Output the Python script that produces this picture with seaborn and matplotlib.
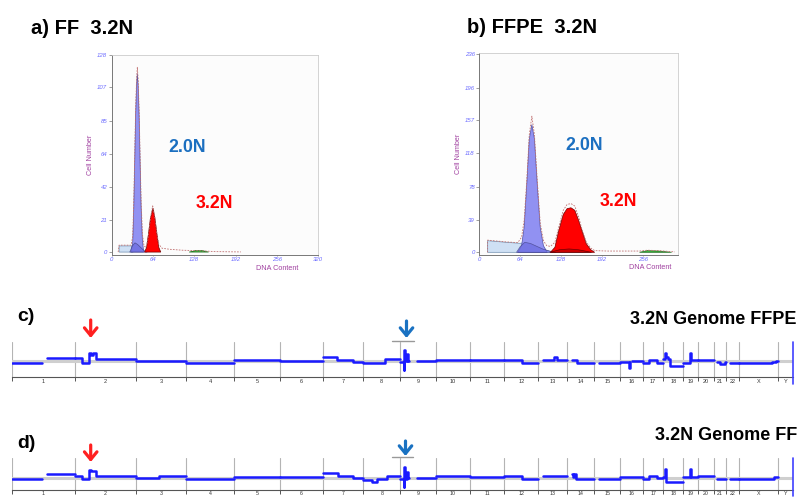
import numpy as np
import pandas as pd
import matplotlib
matplotlib.use("Agg")
import matplotlib.pyplot as plt
from matplotlib.patches import FancyArrowPatch
from matplotlib.lines import Line2D
import seaborn as sns

sns.set_theme(style="white")
plt.rcParams["font.family"] = ["Liberation Sans", "DejaVu Sans"]
plt.rcParams["text.color"] = "black"

# ------------------------------------------------------------------ data
# Panel a (FF) flow histogram components: (DNA content, cell number)
a_debris_x = [11.5, 11.5, 31.0, 33.0]
a_debris_y = [0.0, 4.0, 4.0, 0.0]
a_g1bump_x = [28, 32, 36, 40, 45, 50, 55]
a_g1bump_y = [0, 4, 6, 5, 3, 1, 0]
a_diploid_x = [30, 32.5, 34, 35.5, 37, 38.5, 39.7, 41, 42.5, 44, 45.5, 47.5, 49.5]
a_diploid_y = [0, 6, 25, 55, 88, 108, 116, 108, 88, 58, 30, 8, 0]
a_aneu_x = [51, 54, 57, 60, 64, 67, 70, 73, 76]
a_aneu_y = [0, 3, 12, 22, 28.5, 22, 12, 3, 0]
a_g2_x = [120, 130, 140, 150]
a_g2_y = [0, 1, 1, 0]
a_fit_x = [10, 11.5, 30, 32.5, 34, 35.5, 37, 38.5, 39.7, 41, 42.5, 44, 45.5, 47.5, 50, 53, 56, 60, 63.5, 67, 70, 73, 78, 90, 110, 140, 160, 200]
a_fit_y = [0, 4.5, 4.5, 10, 30, 60, 92, 112, 120, 112, 92, 62, 34, 12, 4, 3, 8, 22, 30, 22, 12, 5, 2.5, 1.8, 1.2, 0.8, 0.3, 0.1]
a_yticks = [0, 21, 42, 64, 85, 107, 128]
a_xticks = [0, 64, 128, 192, 256, 320]

# Panel b (FFPE) flow histogram components
b_debris_x = [13, 13, 40, 63.5, 72, 85, 100, 115]
b_debris_y = [0, 13.8, 12, 10.7, 11.5, 8, 3.5, 0]
b_g1bump_x = [58, 64, 71, 80, 90, 100, 110, 120]
b_g1bump_y = [0, 7, 11.9, 10.5, 7, 3.6, 1.5, 0]
b_diploid_x = [60, 66, 70, 74, 78, 82, 86, 90.5, 95, 100, 106]
b_diploid_y = [0, 8, 30, 80, 135, 152, 135, 80, 30, 8, 0]
b_aneu_x = [111, 118, 124, 131, 137, 143, 149, 155, 160, 167, 174, 180]
b_aneu_y = [0, 6, 26, 45, 52, 53, 50, 38, 26, 10, 3, 0]
b_aneubump_x = [110, 125, 140, 155, 175]
b_aneubump_y = [0, 3, 4, 3, 0]
b_g2_x = [250, 262, 280, 300]
b_g2_y = [0, 2, 1.5, 0]
b_fit_x = [13, 13, 40, 60, 66, 70, 74, 78, 82, 86, 90.5, 95, 100, 105, 111, 118, 124, 131, 137, 143, 149, 155, 160, 167, 174, 180, 200, 250, 262, 280, 305]
b_fit_y = [0, 14.5, 12.5, 11.5, 18, 38, 85, 140, 162, 140, 85, 35, 14, 8, 7, 12, 30, 50, 57, 58, 55, 42, 28, 12, 5, 2, 1.5, 1.5, 2.5, 2, 0.5]
b_yticks = [0, 39, 78, 118, 157, 196, 236]
b_xticks = [0, 64, 128, 192, 256]

# Genome copy-number profiles
chrom_names = [str(i) for i in range(1, 23)] + ["X", "Y"]
chrom_len_mb = [249, 243, 198, 191, 181, 171, 159, 146, 141, 136, 135, 134,
                115, 107, 103, 90, 81, 78, 59, 63, 48, 51, 155, 59]

# (chromosome, start Mb, end Mb, log2 ratio)
ffpe_segments = [
    ("1", 0, 119, -0.08), ("1", 139, 249, 0.17),
    ("2", 0, 30, 0.13), ("2", 30, 58, -0.12), ("2", 58, 66, 0.40), ("2", 66, 72, 0.30),
    ("2", 72, 85, 0.38), ("2", 85, 243, 0.08),
    ("3", 0, 198, -0.02),
    ("4", 0, 191, -0.10),
    ("5", 0, 181, 0.03),
    ("6", 0, 171, -0.02),
    ("7", 0, 53, 0.18), ("7", 53, 119, 0.03), ("7", 119, 159, -0.03),
    ("8", 0, 86, -0.12), ("8", 86, 146, 0.08),
    ("9", 0, 15, -0.05), ("9", 15, 16.5, -0.45), ("9", 16.5, 18, 0.55), ("9", 18, 28, -0.02),
    ("9", 28, 30, 0.35), ("9", 30, 33, 0.0), ("9", 66, 141, 0.02),
    ("10", 0, 136, 0.03),
    ("11", 0, 135, 0.05),
    ("12", 0, 71, 0.05), ("12", 71, 134, -0.12),
    ("13", 19, 63, 0.07), ("13", 63, 76, 0.18), ("13", 76, 115, 0.07),
    ("14", 19, 38, 0.03), ("14", 38, 107, -0.08),
    ("15", 20, 103, -0.09),
    ("16", 0, 36, -0.07), ("16", 36, 37, -0.35), ("16", 37, 39, -0.07), ("16", 46, 90, 0.0),
    ("17", 0, 22, -0.12), ("17", 22, 55, 0.05), ("17", 55, 81, -0.12),
    ("18", 0, 7, 0.10), ("18", 7, 12, 0.42), ("18", 12, 18, 0.20), ("18", 18, 26, 0.12),
    ("18", 26, 78, -0.25),
    ("19", 0, 28, -0.08), ("19", 28, 30, 0.40), ("19", 30, 33, 0.15), ("19", 33, 59, 0.05),
    ("20", 0, 63, 0.05),
    ("21", 13, 25, -0.05), ("21", 25, 42, -0.15), ("21", 42, 48, -0.05),
    ("22", 16, 51, -0.12),
    ("X", 0, 130, -0.12), ("X", 130, 145, -0.05), ("X", 145, 155, 0.0),
]

ff_segments = [
    ("1", 0, 119, -0.05), ("1", 139, 249, 0.17),
    ("2", 0, 30, 0.08), ("2", 30, 58, -0.08), ("2", 58, 64, 0.40), ("2", 64, 85, 0.33),
    ("2", 85, 243, 0.08),
    ("3", 0, 90, -0.03), ("3", 90, 198, 0.08),
    ("4", 0, 191, -0.08),
    ("5", 0, 181, 0.02),
    ("6", 0, 171, 0.05),
    ("7", 0, 60, 0.22), ("7", 60, 119, 0.08), ("7", 119, 159, -0.03),
    ("8", 0, 33, -0.12), ("8", 33, 53, -0.20), ("8", 53, 92, -0.05), ("8", 92, 146, 0.10),
    ("9", 0, 15, -0.08), ("9", 15, 16.5, -0.45), ("9", 16.5, 18, 0.55), ("9", 18, 28, -0.05),
    ("9", 28, 30, 0.30), ("9", 30, 33, -0.03), ("9", 66, 141, 0.0),
    ("10", 0, 136, 0.10),
    ("11", 0, 135, 0.05),
    ("12", 0, 71, 0.08), ("12", 71, 134, -0.07),
    ("13", 19, 115, 0.08),
    ("14", 19, 24, 0.20), ("14", 24, 28, 0.05), ("14", 28, 33, 0.18), ("14", 33, 107, -0.08),
    ("15", 20, 103, -0.07),
    ("16", 0, 90, 0.05),
    ("17", 0, 22, -0.05), ("17", 22, 55, 0.08), ("17", 55, 81, -0.03),
    ("18", 0, 8, 0.05), ("18", 8, 11, 0.42), ("18", 11, 78, -0.20),
    ("19", 0, 28, 0.05), ("19", 28, 30, 0.42), ("19", 30, 59, 0.05),
    ("20", 0, 63, 0.08),
    ("21", 13, 48, -0.07),
    ("22", 16, 51, -0.07),
    ("X", 0, 140, -0.08), ("X", 140, 155, 0.05),
]

# ------------------------------------------------------------------ layout helpers
W, H = 799, 497
fig = plt.figure(figsize=(W / 100, H / 100), dpi=100)


def px_rect(left, top, right, bottom):
    return [left / W, 1 - bottom / H, (right - left) / W, (bottom - top) / H]


def fx(x):
    return x / W


def fy(y):
    return 1 - y / H


BLUE_TXT = "#1b6fc0"
RED = "#ff0000"
TICK_C = "#6b6bff"
LABEL_C = "#a040a0"


def hist_panel(rect, xlim, ylim, xticks, yticks, comps, fit, xlabel_pos):
    ax = fig.add_axes(rect)
    ax.set_facecolor("#fcfcfc")
    ax.set_xlim(*xlim)
    ax.set_ylim(*ylim)
    for (xs, ys, fc, ec, alpha) in comps:
        ax.fill(xs, ys, facecolor=fc, edgecolor=ec, lw=0.5, alpha=alpha, zorder=2)
    fit_df = pd.DataFrame({"x": fit[0], "y": fit[1]})
    sns.lineplot(data=fit_df, x="x", y="y", ax=ax, color="#c07070", lw=0.6,
                 linestyle=(0, (2, 1.5)), sort=False, estimator=None, zorder=4)
    ax.set_xticks(xticks)
    ax.set_yticks(yticks)
    ax.set_xticklabels([str(t) for t in xticks], fontsize=4.3, color=TICK_C, style="italic")
    ax.set_yticklabels([str(t) for t in yticks], fontsize=4.3, color=TICK_C, style="italic")
    ax.tick_params(axis="y", left=True, length=2, width=0.5, color="#777777", pad=1.2)
    ax.tick_params(axis="x", bottom=True, length=1, width=0.5, color="#777777", pad=0.6)
    for s in ["left", "bottom"]:
        ax.spines[s].set_color("#777777")
        ax.spines[s].set_linewidth(0.7)
    for s in ["top", "right"]:
        ax.spines[s].set_color("#cccccc")
        ax.spines[s].set_linewidth(0.6)
    ax.set_xlabel("")
    ax.set_ylabel("Cell Number", fontsize=5.2, color=LABEL_C, labelpad=2)
    ax.text(xlabel_pos[0], xlabel_pos[1], "DNA Content", transform=ax.transAxes,
            fontsize=5.2, color=LABEL_C, ha="center", va="center")
    return ax


# Panel a
ax_a = hist_panel(
    px_rect(111.7, 55, 318.3, 255), (0, 320), (-1.9, 128), a_xticks, a_yticks,
    [(a_debris_x, a_debris_y, "#cfe0f4", "#6f8fb0", 1.0),
     (a_diploid_x, a_diploid_y, "#8b8bf2", "#4a4aa0", 0.95),
     (a_g1bump_x, a_g1bump_y, "#6d6de0", "#404080", 0.8),
     (a_aneu_x, a_aneu_y, RED, "#700000", 1.0),
     (a_g2_x, a_g2_y, "#40b040", "#207020", 1.0)],
    (a_fit_x, a_fit_y), (0.80, -0.067))

# Panel b
ax_b = hist_panel(
    px_rect(479.3, 53, 678, 255), (0, 310), (-3.2, 237.2), b_xticks, b_yticks,
    [(b_debris_x, b_debris_y, "#cfe0f4", "#6f8fb0", 1.0),
     (b_diploid_x, b_diploid_y, "#8b8bf2", "#4a4aa0", 0.95),
     (b_g1bump_x, b_g1bump_y, "#6d6de0", "#404080", 0.7),
     (b_aneu_x, b_aneu_y, RED, "#700000", 1.0),
     (b_aneubump_x, b_aneubump_y, "#c00000", "#500000", 0.8),
     (b_g2_x, b_g2_y, "#40b040", "#207020", 1.0)],
    (b_fit_x, b_fit_y), (0.86, -0.062))

# Peak labels
fig.text(fx(187), fy(148), "2.0N", color=BLUE_TXT, fontsize=12.8, weight="bold", ha="center", va="center")
fig.text(fx(214.5), fy(203), "3.2N", color=RED, fontsize=12.8, weight="bold", ha="center", va="center")
fig.text(fx(584), fy(146), "2.0N", color=BLUE_TXT, fontsize=12.8, weight="bold", ha="center", va="center")
fig.text(fx(618), fy(201), "3.2N", color=RED, fontsize=12.8, weight="bold", ha="center", va="center")

# Panel titles
fig.text(fx(31), fy(28), "a) FF  3.2N", fontsize=14.5, weight="bold", va="center", ha="left", color="black")
fig.text(fx(467), fy(27.5), "b) FFPE  3.2N", fontsize=14.5, weight="bold", va="center", ha="left", color="black")
fig.text(fx(17), fy(316.5), "c)", fontsize=14, weight="bold", va="center", ha="left", color="black")
fig.text(fx(17), fy(443), "d)", fontsize=14, weight="bold", va="center", ha="left", color="black")
fig.text(fx(797), fy(319), "3.2N Genome FFPE", fontsize=13, weight="bold", va="center", ha="right", color="black")
fig.text(fx(797), fy(435), "3.2N Genome FF", fontsize=13, weight="bold", va="center", ha="right", color="black")

# ------------------------------------------------------------------ genome panels
offsets = dict(zip(chrom_names, np.concatenate([[0], np.cumsum(chrom_len_mb)[:-1]])))
bounds = np.concatenate([[0], np.cumsum(chrom_len_mb)])
mids = (bounds[:-1] + bounds[1:]) / 2
total = bounds[-1]


def seg_frame(segments):
    rows = []
    run = -1
    prev = None
    for chrom, s, e, v in segments:
        if prev is None or prev[0] != chrom or prev[1] != s:
            run += 1
        x0 = offsets[chrom] + s
        x1 = offsets[chrom] + e
        rows.append((x0, v, run))
        rows.append((x1, v, run))
        prev = (chrom, e)
    return pd.DataFrame(rows, columns=["pos", "val", "run"])


def genome_panel(rect, ylim, segments, label_size, label_pad):
    ax = fig.add_axes(rect)
    ax.set_facecolor("none")
    ax.set_xlim(0, total)
    ax.set_ylim(*ylim)
    for b in bounds[:-1]:
        ax.axvline(b, color="#b4b4b4", lw=0.8, zorder=1)
    ax.axhline(0, color="#cfcfcf", lw=2.2, zorder=1)
    df = seg_frame(segments)
    sns.lineplot(data=df, x="pos", y="val", units="run", estimator=None, sort=False,
                 color="#1a1aff", lw=1.8, ax=ax, legend=False, zorder=3)
    ax.axvline(total, ymin=-0.2, ymax=1.0, color="#4040ff", lw=1.2, clip_on=False, zorder=3)
    for s in ["top", "left", "right"]:
        ax.spines[s].set_visible(False)
    ax.spines["bottom"].set_color("#555555")
    ax.spines["bottom"].set_linewidth(0.8)
    ax.set_yticks([])
    ax.set_xticks(bounds[:-1])
    ax.set_xticklabels([])
    ax.set_xticks(mids, minor=True)
    ax.set_xticklabels(chrom_names, minor=True, fontsize=label_size, color="#333333")
    ax.tick_params(axis="x", which="major", bottom=True, length=3, width=0.7, color="#555555")
    ax.tick_params(axis="x", which="minor", bottom=True, length=0, pad=label_pad)
    ax.set_xlabel("")
    ax.set_ylabel("")
    return ax


ax_c = genome_panel(px_rect(11.7, 341.7, 793, 377.3), (-0.815, 0.965), ffpe_segments, 4, 1.5)
ax_d = genome_panel(px_rect(11.7, 458, 793, 489.8), (-0.605, 0.985), ff_segments, 3.8, 0.8)


# ------------------------------------------------------------------ arrows and brackets
def arrow(x, y_top, y_tip, color):
    p = FancyArrowPatch((fx(x), fy(y_top)), (fx(x), fy(y_tip)), transform=fig.transFigure,
                        arrowstyle="->,head_length=0.55,head_width=0.45", mutation_scale=10,
                        lw=2.3, color=color, shrinkA=0, shrinkB=0)
    fig.add_artist(p)


def bracket(x0, x1, y):
    fig.add_artist(Line2D([fx(x0), fx(x1)], [fy(y), fy(y)], transform=fig.transFigure,
                          color="#999999", lw=1.0))


arrow(90.7, 320, 338, "#ff2020")
arrow(406.5, 321, 338, "#1a72c2")
bracket(391.7, 414, 340.5)
arrow(90.7, 445, 462, "#ff2020")
arrow(405.5, 441, 456, "#1a72c2")
bracket(391.7, 413, 457)

fig.savefig("out.png", dpi=100)
